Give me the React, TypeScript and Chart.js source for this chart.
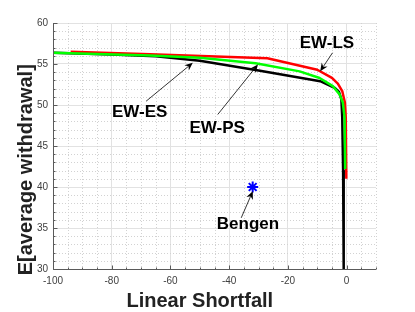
import { useEffect, useRef } from "react";
import { Chart, registerables } from "chart.js";

Chart.register(...registerables);

// ---- axis ticks ----
const xTickValues = [-100, -80, -60, -40, -20, 0];
const yTickValues = [30, 35, 40, 45, 50, 55, 60];
const xMinorStep = 5;
const yMinorStep = 1;

// ---- series (Linear Shortfall vs E[average withdrawal]) ----
const ewLsShortfall = [-94, -67, -27, -10, -5, -3, -1.5, -0.6, -0.3, -0.1];
const ewLsWithdrawal = [56.5, 56.2, 55.7, 54.3, 53.3, 52.6, 51.7, 50.3, 48.5, 41];

const ewPsShortfall = [-102, -67, -50, -31, -16, -9.2, -4.7, -2.4, -1.3, -0.7, -0.5];
const ewPsWithdrawal = [56.4, 56.05, 55.75, 55.1, 54.1, 53.3, 52.3, 51.3, 50.3, 48.5, 42.2];

const ewEsShortfall = [-102, -80, -65, -50, -30, -9, -4.1, -2.6, -1.8, -1.5, -1.2, -1.0];
const ewEsWithdrawal = [56.4, 56.15, 55.95, 55.4, 54.2, 52.9, 52.1, 51.6, 50.7, 48.5, 42, 30];

const bengenShortfall = [-32];
const bengenWithdrawal = [40];

// ---- annotations ----
const annotationLabels = ["EW-LS", "EW-ES", "EW-PS", "Bengen"];
const labelX = [-6.7, -70.5, -44.1, -33.6];
const labelY = [57.56, 49.1, 47.13, 35.49];
const arrowFromX = [-4.8, -68.3, -43.9, -35.9];
const arrowFromY = [56.37, 50.46, 48.84, 36.24];
const arrowToX = [-9.0, -52.4, -30.2, -31.95];
const arrowToY = [54.12, 55.15, 54.94, 39.49];

const xTitle = "Linear Shortfall";
const yTitle = "E[average withdrawal]";

const FONT = "'Liberation Sans', Arial, Helvetica, sans-serif";

function pts(xs: number[], ys: number[]) {
  return xs.map((x, i) => ({ x, y: ys[i] }));
}

function drawArrow(ctx: CanvasRenderingContext2D, x1: number, y1: number, x2: number, y2: number) {
  const ang = Math.atan2(y2 - y1, x2 - x1);
  const len = 8;
  const half = 3.5;
  const notch = 5.5;
  ctx.save();
  ctx.strokeStyle = "#000";
  ctx.fillStyle = "#000";
  ctx.lineWidth = 0.8;
  ctx.beginPath();
  ctx.moveTo(x1, y1);
  ctx.lineTo(x2 - Math.cos(ang) * notch, y2 - Math.sin(ang) * notch);
  ctx.stroke();
  const bx = x2 - Math.cos(ang) * len;
  const by = y2 - Math.sin(ang) * len;
  const nx = x2 - Math.cos(ang) * notch;
  const ny = y2 - Math.sin(ang) * notch;
  const px = -Math.sin(ang) * half;
  const py = Math.cos(ang) * half;
  ctx.beginPath();
  ctx.moveTo(x2, y2);
  ctx.lineTo(bx + px, by + py);
  ctx.lineTo(nx, ny);
  ctx.lineTo(bx - px, by - py);
  ctx.closePath();
  ctx.fill();
  ctx.restore();
}

const decorPlugin = {
  id: "decor",
  beforeDatasetsDraw(chart: any) {
    const { ctx, chartArea } = chart;
    const xs = chart.scales.x;
    const ys = chart.scales.y;
    ctx.save();
    ctx.strokeStyle = "#d2d2d2";
    ctx.lineWidth = 1;
    ctx.setLineDash([1, 2]);
    for (let v = xs.min; v <= xs.max + 1e-9; v += xMinorStep) {
      if (xTickValues.includes(v)) continue;
      const p = Math.round(xs.getPixelForValue(v)) + 0.5;
      ctx.beginPath();
      ctx.moveTo(p, chartArea.top);
      ctx.lineTo(p, chartArea.bottom);
      ctx.stroke();
    }
    for (let v = ys.min; v <= ys.max + 1e-9; v += yMinorStep) {
      if (yTickValues.includes(v)) continue;
      const p = Math.round(ys.getPixelForValue(v)) + 0.5;
      ctx.beginPath();
      ctx.moveTo(chartArea.left, p);
      ctx.lineTo(chartArea.right, p);
      ctx.stroke();
    }
    ctx.restore();
  },
  afterDatasetsDraw(chart: any) {
    const { ctx } = chart;
    const xs = chart.scales.x;
    const ys = chart.scales.y;
    annotationLabels.forEach((label, i) => {
      drawArrow(
        ctx,
        xs.getPixelForValue(arrowFromX[i]),
        ys.getPixelForValue(arrowFromY[i]),
        xs.getPixelForValue(arrowToX[i]),
        ys.getPixelForValue(arrowToY[i])
      );
      ctx.save();
      ctx.font = `bold 17px ${FONT}`;
      ctx.fillStyle = "#000";
      ctx.textAlign = "center";
      ctx.textBaseline = "middle";
      ctx.fillText(label, xs.getPixelForValue(labelX[i]), ys.getPixelForValue(labelY[i]));
      ctx.restore();
    });
  },
  afterDraw(chart: any) {
    const { ctx, chartArea } = chart;
    const xs = chart.scales.x;
    const ys = chart.scales.y;
    const L = chartArea.left + 0.5;
    const B = chartArea.bottom + 0.5;
    ctx.save();
    ctx.strokeStyle = "#5a5a5a";
    ctx.lineWidth = 1;
    ctx.beginPath();
    ctx.moveTo(L, chartArea.top);
    ctx.lineTo(L, B);
    ctx.lineTo(chartArea.right, B);
    ctx.stroke();
    // inward ticks
    ctx.beginPath();
    for (let v = xs.min; v <= xs.max + 1e-9; v += xMinorStep) {
      const major = xTickValues.includes(v);
      const p = Math.round(xs.getPixelForValue(v)) + 0.5;
      ctx.moveTo(p, B);
      ctx.lineTo(p, B - (major ? 4 : 2));
    }
    for (let v = ys.min; v <= ys.max + 1e-9; v += yMinorStep) {
      const major = yTickValues.includes(v);
      const p = Math.round(ys.getPixelForValue(v)) + 0.5;
      ctx.moveTo(L, p);
      ctx.lineTo(L + (major ? 4 : 2), p);
    }
    ctx.stroke();
    // axis titles
    ctx.fillStyle = "#222";
    ctx.font = `bold 20px ${FONT}`;
    ctx.textAlign = "center";
    ctx.textBaseline = "alphabetic";
    ctx.fillText(xTitle, xs.getPixelForValue(-50), chartArea.bottom + 37.5);
    ctx.translate(32, ys.getPixelForValue(42.1));
    ctx.rotate(-Math.PI / 2);
    ctx.fillText(yTitle, 0, 0);
    ctx.restore();
  },
};

export default function App() {
  const ref = useRef<HTMLCanvasElement | null>(null);

  useEffect(() => {
    document.body.style.margin = "0";
    if (!ref.current) return;
    const lineDs = (label: string, xs: number[], ys: number[], color: string) => ({
      label,
      data: pts(xs, ys),
      showLine: true,
      borderColor: color,
      backgroundColor: color,
      borderWidth: 2.5,
      pointRadius: 0,
      borderJoinStyle: "round" as const,
      borderCapStyle: "butt" as const,
      tension: 0,
    });
    const chart = new Chart(ref.current, {
      type: "scatter",
      data: {
        datasets: [
          {
            label: "Bengen",
            data: pts(bengenShortfall, bengenWithdrawal),
            pointStyle: "star",
            pointRadius: 5.5,
            borderColor: "#0000ff",
            backgroundColor: "#0000ff",
            borderWidth: 2,
          },
          lineDs("EW-PS", ewPsShortfall, ewPsWithdrawal, "#00ff00"),
          lineDs("EW-LS", ewLsShortfall, ewLsWithdrawal, "#ff0000"),
          lineDs("EW-ES", ewEsShortfall, ewEsWithdrawal, "#000000"),
        ],
      },
      options: {
        responsive: false,
        animation: false,
        devicePixelRatio: 1,
        layout: { padding: { top: 23, right: 39, left: 0, bottom: 0 } },
        plugins: { legend: { display: false }, tooltip: { enabled: false } },
        scales: {
          x: {
            type: "linear",
            min: -100,
            max: 10,
            afterBuildTicks: (s: any) => {
              s.ticks = xTickValues.map((v) => ({ value: v }));
            },
            afterFit: (s: any) => {
              s.height = 43;
            },
            grid: { color: "#e2e2e2", drawTicks: false, lineWidth: 1 },
            border: { display: false },
            ticks: {
              padding: 6,
              color: "#404040",
              font: { family: FONT, size: 10 },
              maxRotation: 0,
              autoSkip: false,
            },
          },
          y: {
            type: "linear",
            min: 30,
            max: 60,
            afterBuildTicks: (s: any) => {
              s.ticks = yTickValues.map((v) => ({ value: v }));
            },
            afterFit: (s: any) => {
              s.width = 53;
            },
            grid: { color: "#e2e2e2", drawTicks: false, lineWidth: 1 },
            border: { display: false },
            ticks: {
              padding: 5,
              color: "#404040",
              font: { family: FONT, size: 10 },
              autoSkip: false,
            },
          },
        },
      },
      plugins: [decorPlugin],
    });
    return () => chart.destroy();
  }, []);

  return (
    <div style={{ width: 415, height: 312, position: "relative" }}>
      <canvas ref={ref} width={415} height={312} style={{ display: "block" }} />
    </div>
  );
}
